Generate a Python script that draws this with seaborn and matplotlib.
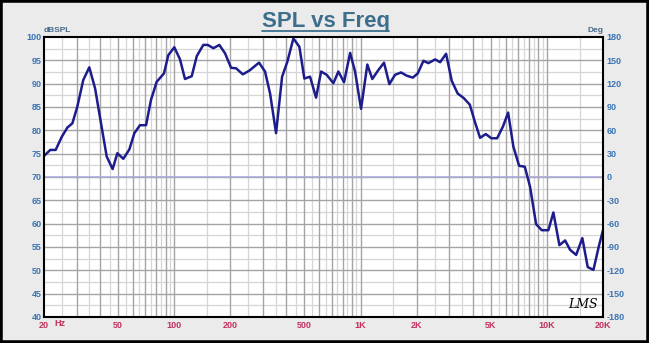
import matplotlib
matplotlib.use("Agg")
import matplotlib.pyplot as plt
from matplotlib.lines import Line2D
from matplotlib.patches import Rectangle
from matplotlib.ticker import NullLocator, FixedLocator
import pandas as pd
import seaborn as sns

# Measured response: frequency (Hz) and sound pressure level (dB SPL)
freq_hz = [20, 21.6, 23.1, 24.9, 26.7, 28.4, 30.2, 32.5, 35.0, 37.6,
           40.3, 43.4, 46.7, 49.5, 53.3, 57.4, 61.1, 65.5, 70.6, 75.0,
           80.5, 88.1, 92.9, 100.1, 107.4, 114.2, 124.1, 132.1, 143.2, 151.3,
           162.2, 174.6, 187.4, 201.8, 214.7, 233.3, 253.0, 285.1, 307.1, 326.8,
           351.9, 379.2, 404.6, 435.9, 469.5, 499.2, 535.6, 577.0, 613.8, 657.9,
           714.4, 760.2, 815.0, 878.9, 934.1, 1006, 1087, 1156, 1245, 1336,
           1427, 1531, 1649, 1770, 1907, 2028, 2174, 2312, 2512, 2673,
           2877, 3085, 3319, 3582, 3856, 4116, 4377, 4700, 5033, 5405,
           5807, 6193, 6608, 7093, 7609, 8121, 8749, 9382, 10182, 10834,
           11667, 12527, 13315, 14354, 15495, 16558, 17773, 19060, 20000]
spl_db = [74.5, 75.8, 75.8, 78.6, 80.6, 81.5, 85.1, 90.8, 93.5, 89.0,
          81.9, 74.4, 71.7, 75.1, 73.9, 75.9, 79.4, 81.1, 81.1, 86.5,
          90.4, 92.2, 96.1, 97.8, 95.2, 91.0, 91.6, 95.9, 98.3, 98.3,
          97.6, 98.3, 96.5, 93.4, 93.3, 92.0, 92.8, 94.5, 92.6, 87.9,
          79.4, 91.5, 94.7, 99.7, 97.9, 91.1, 91.5, 87.0, 92.6, 91.9,
          90.1, 92.6, 90.3, 96.6, 92.6, 84.6, 94.1, 91.0, 92.9, 94.5,
          89.9, 91.9, 92.4, 91.7, 91.3, 92.2, 94.9, 94.4, 95.2, 94.6,
          96.4, 90.6, 87.9, 86.9, 85.5, 81.7, 78.4, 79.2, 78.3, 78.3,
          80.8, 83.8, 76.5, 72.4, 72.2, 67.9, 59.9, 58.6, 58.6, 62.4,
          55.4, 56.4, 54.4, 53.3, 56.9, 50.7, 50.1, 55.4, 58.6]

x_ticks = [20, 50, 100, 200, 500, 1000, 2000, 5000, 10000, 20000]
x_tick_labels = ["20", "50", "100", "200", "500", "1K", "2K", "5K", "10K", "20K"]
spl_ticks = list(range(40, 101, 5))
phase_ticks = list(range(-180, 181, 30))

sns.set_theme(style="white")
plt.rcParams["font.family"] = ["Liberation Sans", "DejaVu Sans"]

BG = "#ebebeb"
NAVY = "#1c1c8c"
TICK_BLUE = "#3a74b4"
LABEL_BLUE = "#46698a"
FREQ_RED = "#c4305c"
TITLE_COL = "#3d6e8c"

W, H = 649, 343
fig = plt.figure(figsize=(W / 100, H / 100), dpi=100, facecolor=BG)
ax = fig.add_axes([44 / W, (H - 317) / H, 559 / W, 280 / H])
ax.set_facecolor("white")

df = pd.DataFrame({"freq": freq_hz, "spl": spl_db})

ax.set_xscale("log")
ax.set_xlim(20, 20000)
ax.set_ylim(40, 100)

# Log-frequency grid: darker lines at n*10^k, lighter at (n+0.5)*10^k
for decade in (10, 100, 1000, 10000):
    for n in range(1, 10):
        f = n * decade
        if 20 < f < 20000:
            ax.axvline(f, color="#a4a4a4", lw=1.0, zorder=1)
        fh = (n + 0.5) * decade
        if 20 < fh < 20000:
            ax.axvline(fh, color="#d6d6d6", lw=0.9, zorder=0.9)
for y in spl_ticks[1:-1]:
    ax.axhline(y, color="#a4a4a4", lw=1.0, zorder=1)
for y in range(40, 100, 5):
    ax.axhline(y + 2.5, color="#d6d6d6", lw=0.9, zorder=0.9)
ax.axhline(70, color="#a9a9da", lw=1.1, zorder=1.5)

sns.lineplot(data=df, x="freq", y="spl", ax=ax, color=NAVY, linewidth=1.8,
             estimator=None, sort=False, zorder=3)

ax.set_xlabel("")
ax.set_ylabel("")
ax.xaxis.set_major_locator(FixedLocator(x_ticks))
ax.xaxis.set_minor_locator(NullLocator())
ax.set_xticklabels(x_tick_labels)
ax.set_yticks(spl_ticks)
ax.set_yticklabels([str(v) for v in spl_ticks])
ax.tick_params(axis="x", length=0, pad=3, labelsize=6.5, labelcolor=FREQ_RED)
ax.tick_params(axis="y", length=0, pad=1.5, labelsize=6.5, labelcolor=TICK_BLUE)
for lab in ax.get_xticklabels() + ax.get_yticklabels():
    lab.set_fontweight("bold")

for side in ("left", "right", "top", "bottom"):
    ax.spines[side].set_visible(True)
    ax.spines[side].set_color("black")
    ax.spines[side].set_linewidth(1.5)
    ax.spines[side].set_zorder(5)

# Phase scale on the right
ax2 = ax.twinx()
ax2.set_ylim(-180, 180)
ax2.set_yticks(phase_ticks)
ax2.set_yticklabels([str(v) for v in phase_ticks])
ax2.grid(False)
ax2.tick_params(axis="y", length=0, pad=2.5, labelsize=6.5, labelcolor=TICK_BLUE)
for lab in ax2.get_yticklabels():
    lab.set_fontweight("bold")
for side in ax2.spines:
    ax2.spines[side].set_visible(False)

# Axis captions
fig.text(44 / W, 1 - 31 / H, "dBSPL", ha="left", va="center", fontsize=6,
         fontweight="bold", color=LABEL_BLUE)
fig.text(603 / W, 1 - 31 / H, "Deg", ha="right", va="center", fontsize=6,
         fontweight="bold", color=LABEL_BLUE)
fig.text(54 / W, 1 - 324 / H, "Hz", ha="left", va="center", fontsize=6.5,
         fontweight="bold", color=FREQ_RED)

# Title with underline
fig.text(325.5 / W, 1 - 27 / H, "SPL vs Freq", ha="center", va="baseline",
         fontsize=16, fontweight="bold", color=TITLE_COL)
fig.add_artist(Line2D([262 / W, 389 / W], [1 - 31 / H, 1 - 31 / H],
                      transform=fig.transFigure, color=TITLE_COL, lw=1.3))

# Signature mark
fig.text(583 / W, 1 - 305 / H, "LMS", ha="center", va="center", fontsize=9,
         fontstyle="italic", family="DejaVu Serif", color="black", zorder=6)

# Outer frame
fig.add_artist(Rectangle((0, 0), 1, 1, transform=fig.transFigure, fill=False,
                         edgecolor="black", lw=4))

fig.savefig("out.png", dpi=100, facecolor=BG)
